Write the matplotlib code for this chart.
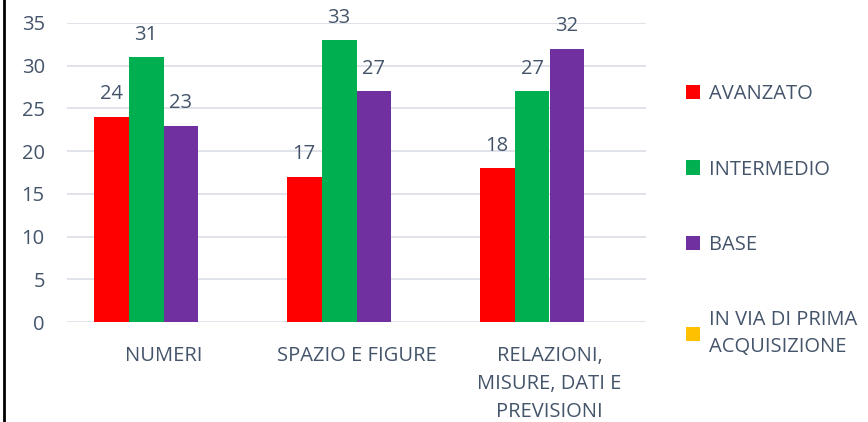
import numpy as np
import matplotlib.pyplot as plt
from matplotlib.lines import Line2D

categories = ['NUMERI', 'SPAZIO E FIGURE', 'RELAZIONI,\nMISURE, DATI E\nPREVISIONI']
series = ['AVANZATO', 'INTERMEDIO', 'BASE', 'IN VIA DI PRIMA\nACQUISIZIONE']
avanzato = [24, 17, 18]
intermedio = [31, 33, 27]
base = [23, 27, 32]
prima = [0, 0, 0]
colors = ['#FF0000', '#00B050', '#7030A0', '#FFC000']

txt = '#44546A'
fs = 14.5
plt.rcParams['font.family'] = ['Open Sans', 'DejaVu Sans']

fig = plt.figure(figsize=(8.68, 4.22), dpi=100)
ax = fig.add_axes([67/868, 1-322/422, 579/868, 299/422])

x = np.arange(len(categories))
w = 0.725 / 4
values = [avanzato, intermedio, base, prima]
for i, (vals, c, name) in enumerate(zip(values, colors, series)):
    pos = x - 1.5*w + i*w
    bars = ax.bar(pos, vals, w, color=c, label=name, zorder=3)
    if i < 3:
        for b, v in zip(bars, vals):
            ax.annotate(str(v), (b.get_x() + b.get_width()/2, v), xytext=(0, 9),
                        textcoords='offset points', ha='center', va='bottom',
                        fontsize=fs, color=txt)

ax.set_xlim(-0.5, 2.5)
ax.set_ylim(0, 35)
ax.set_yticks(range(0, 36, 5))
ax.grid(axis='y', color='#DDE2E8', linewidth=1.3, zorder=0)
for s in ax.spines.values():
    s.set_visible(False)
ax.tick_params(length=0, labelsize=fs, labelcolor=txt)
ax.tick_params(axis='y', pad=16)
ax.tick_params(axis='x', pad=17)
ax.set_xticks(x)
ax.set_xticklabels(categories, linespacing=1.55)

leg = fig.legend(loc='upper left', bbox_to_anchor=(668/868, 1-66/422), frameon=False,
                 fontsize=fs, labelcolor=txt, handlelength=0.7, handleheight=0.7,
                 handletextpad=0.45, labelspacing=2.75)
for t in leg.get_texts():
    t.set_linespacing(1.45)

fig.add_artist(Line2D([4/868, 4/868], [0, 1], color='black', linewidth=2, transform=fig.transFigure))

fig.savefig('out.png', dpi=100)
